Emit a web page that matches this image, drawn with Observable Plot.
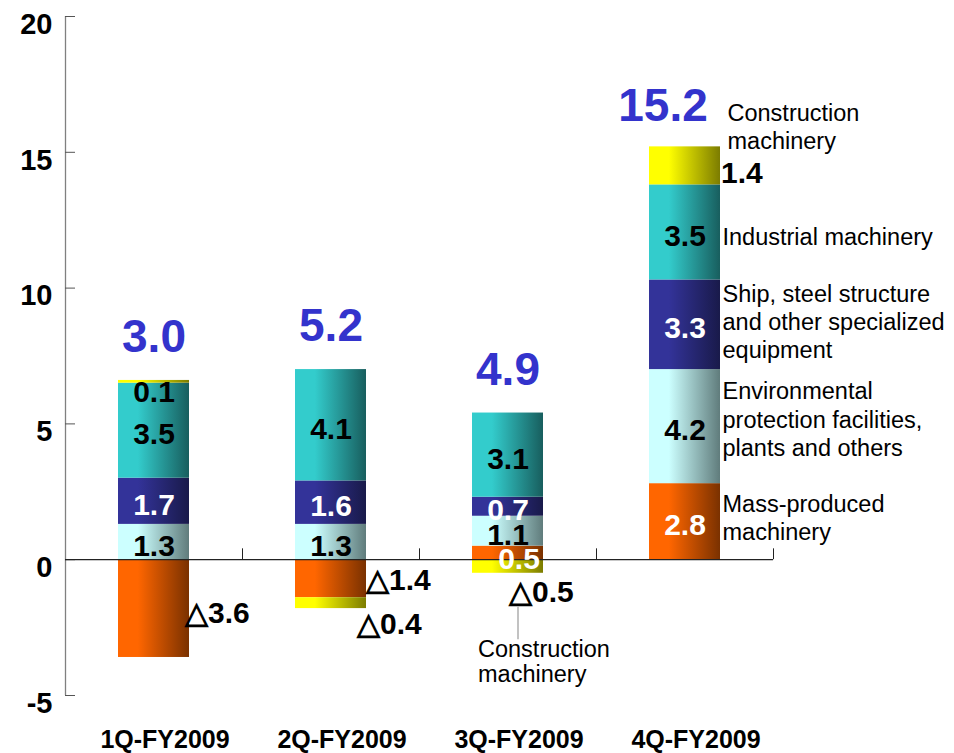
<!DOCTYPE html>
<html><head><meta charset="utf-8">
<script src="https://cdn.jsdelivr.net/npm/d3@7"></script>
<script src="https://cdn.jsdelivr.net/npm/@observablehq/plot@0.6"></script>
<style>body{margin:0;background:#fff}</style>
</head><body><div id="chart"></div>
<script>
// ---- data ----
const quarters = ["1Q-FY2009", "2Q-FY2009", "3Q-FY2009", "4Q-FY2009"];
const series = [
  "Mass-produced machinery",
  "Environmental protection facilities, plants and others",
  "Ship, steel structure and other specialized equipment",
  "Industrial machinery",
  "Construction machinery"
];
const seriesLabels = [
  "Mass-produced\nmachinery",
  "Environmental\nprotection facilities,\nplants and others",
  "Ship, steel structure\nand other specialized\nequipment",
  "Industrial machinery",
  "Construction\nmachinery"
];
const massProduced  = [-3.6, -1.4, 0.5, 2.8];
const environmental = [1.3, 1.3, 1.1, 4.2];
const ship          = [1.7, 1.6, 0.7, 3.3];
const industrial    = [3.5, 4.1, 3.1, 3.5];
const construction  = [0.1, -0.4, -0.5, 1.4];
const totals        = [3.0, 5.2, 4.9, 15.2];
const yTicks        = [-5, 0, 5, 10, 15, 20];

// ---- styles ----
const seriesColors = [
  ["#FF6600", "#7A3100"],
  ["#CCFFFF", "#607C7C"],
  ["#333399", "#191A4A"],
  ["#33CCCC", "#185E5E"],
  ["#FFFF00", "#7C7C00"]
];

const seriesValues = [massProduced, environmental, ship, industrial, construction];
const rows = quarters.flatMap((q, i) =>
  seriesValues.map((vals, s) => ({quarter: q, series: series[s], label: seriesLabels[s], value: vals[i]})));
const totalRows = quarters.map((q, i) => ({
  quarter: q, total: totals[i],
  top: d3.sum(seriesValues, v => Math.max(0, v[i]))
}));

const fmt = v => v < 0 ? "\u25B3" + Math.abs(v).toFixed(1) : v.toFixed(1);

const gradients = () => {
  const ns = "http://www.w3.org/2000/svg";
  const g = document.createElementNS(ns, "g");
  const defs = document.createElementNS(ns, "defs");
  seriesColors.forEach(([light, dark], i) => {
    const lg = document.createElementNS(ns, "linearGradient");
    lg.setAttribute("id", "grad" + i);
    lg.setAttribute("x1", "0"); lg.setAttribute("y1", "0");
    lg.setAttribute("x2", "1"); lg.setAttribute("y2", "0");
    [[0, light], [0.28, light], [1, dark]].forEach(([o, c]) => {
      const st = document.createElementNS(ns, "stop");
      st.setAttribute("offset", o);
      st.setAttribute("stop-color", c);
      lg.appendChild(st);
    });
    defs.appendChild(lg);
  });
  g.appendChild(defs);
  return g;
};

const is = (q, s) => d => d.quarter === quarters[q] && d.series === series[s];
function valueText(pick, opts) {
  return Plot.text(rows, Plot.stackY({
    x: "quarter", y: "value", z: "series",
    text: d => pick(d) ? fmt(d.value) : null,
    fontSize: 30, fontWeight: "bold", ...opts
  }));
}
function nameText(pick, opts) {
  return Plot.text(rows, Plot.stackY({
    x: "quarter", y: "value", z: "series",
    text: d => pick(d) ? d.label : null,
    fontSize: 23.5, textAnchor: "start", lineHeight: 1.2, fill: "#000", ...opts
  }));
}

const halfStep = 88.5;

const chart = Plot.plot({
  width: 954, height: 753,
  marginLeft: 65, marginRight: 181, marginTop: 16, marginBottom: 58,
  style: {fontFamily: '"Liberation Sans", Arial, sans-serif', background: "#fff", overflow: "visible"},
  x: {domain: quarters, paddingInner: 0.6, paddingOuter: 0.3, label: null, axis: null},
  y: {domain: [-5, 20], label: null, axis: null},
  color: {type: "ordinal", domain: series, range: series.map((_, i) => `url(#grad${i})`)},
  marks: [
    gradients,
    Plot.barY(rows, Plot.stackY({x: "quarter", y: "value", z: "series", fill: "series"})),
    // axis line and ticks
    Plot.ruleX([quarters[0]], {x: d => d, dx: -halfStep, y1: -5, y2: 20, stroke: "#808080", strokeWidth: 1.3}),
    Plot.tickY(yTicks, {y: d => d, insetRight: 698, stroke: "#555"}),
    Plot.ruleY([0], {stroke: "#222", strokeWidth: 1.2}),
    Plot.ruleX(quarters, {x: d => d, dx: halfStep, y1: 0, y2: 0.4, stroke: "#222"}),
    Plot.text(yTicks, {y: d => d, text: d => String(d), frameAnchor: "left", textAnchor: "end",
      dx: -13, dy: 8, fontSize: 29, fontWeight: "bold", fill: "#000"}),
    Plot.axisX({tickSize: 0, tickPadding: 35, fontSize: 25, fontWeight: "bold", fill: "#000", dx: 11, label: null}),
    // inside labels
    valueText(d => (d.series === series[1] || d.series === series[3]), {fill: "#000", dy: 4}),
    valueText(d => d.series === series[2] || is(3, 0)(d), {fill: "#fff", dy: 4}),
    valueText(is(0, 4), {fill: "#000", dy: 11}),
    valueText(is(2, 0), {fill: "#fff", dx: 11, dy: 6}),
    // outside labels
    valueText(is(0, 0), {fill: "#000", textAnchor: "start", dx: 31, dy: 5}),
    valueText(is(1, 0), {fill: "#000", textAnchor: "start", dx: 35, dy: 2}),
    valueText(is(1, 4), {fill: "#000", textAnchor: "start", dx: 26, dy: 21}),
    valueText(is(2, 4), {fill: "#000", textAnchor: "start", dx: 1, dy: 26}),
    valueText(is(3, 4), {fill: "#000", textAnchor: "start", dx: 36, dy: 8}),
    // series names
    nameText(is(3, 0), {dx: 37.5, dy: -5}),
    nameText(is(3, 1), {dx: 37.5, dy: -8}),
    nameText(is(3, 2), {dx: 37.5, dy: -4}),
    nameText(is(3, 3), {dx: 37.5, dy: 4}),
    nameText(is(3, 4), {dx: 42.5, dy: -40}),
    nameText(is(2, 4), {dx: -30, dy: 95, lineHeight: 1.08}),
    Plot.ruleX([quarters[2]], {x: d => d, dx: 10, y1: -1.75, y2: -2.95, stroke: "#999", strokeWidth: 1.2}),
    // totals
    Plot.text(totalRows, {filter: d => d.quarter !== quarters[3], x: "quarter", y: "top", text: d => d.total.toFixed(1),
      dy: -43, fontSize: 46, fontWeight: "bold", fill: "#3333CC"}),
    Plot.text(totalRows, {filter: d => d.quarter === quarters[3], x: "quarter", y: "top", text: d => d.total.toFixed(1),
      dx: -22, dy: -41, fontSize: 46, fontWeight: "bold", fill: "#3333CC"})
  ]
});
document.getElementById("chart").appendChild(chart);
</script>
</body></html>
